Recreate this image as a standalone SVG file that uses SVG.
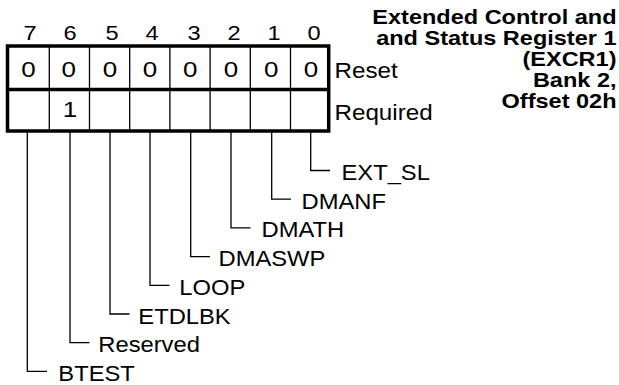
<svg xmlns="http://www.w3.org/2000/svg" width="619" height="385" viewBox="0 0 619 385">
<style>
text{font-family:"Liberation Sans",Arial,sans-serif;fill:#000}
.bit{font-size:20.5px;text-anchor:middle}
.val{font-size:22px;text-anchor:middle}
.lbl{font-size:22px}
.ttl{font-size:21px;font-weight:bold;text-anchor:end}
.thick{fill:none;stroke:#000;stroke-width:3.5}
.thin{fill:none;stroke:#000;stroke-width:1.3}
</style>
<rect width="619" height="385" fill="#fff"/>
<g id="title" transform="translate(616.5,0) scale(1.12,1)">
<text class="ttl" x="0" y="24.5">Extended Control and</text>
<text class="ttl" x="0" y="45.5">and Status Register 1</text>
<text class="ttl" x="0" y="66.5">(EXCR1)</text>
<text class="ttl" x="0" y="87.5">Bank 2,</text>
<text class="ttl" x="0" y="108.5">Offset 02h</text>
</g>
<g id="bit-numbers">
<text class="bit" transform="translate(30 40.3) scale(1.15 1)">7</text>
<text class="bit" transform="translate(70 40.3) scale(1.15 1)">6</text>
<text class="bit" transform="translate(112 40.3) scale(1.15 1)">5</text>
<text class="bit" transform="translate(152 40.3) scale(1.15 1)">4</text>
<text class="bit" transform="translate(194 40.3) scale(1.15 1)">3</text>
<text class="bit" transform="translate(234 40.3) scale(1.15 1)">2</text>
<text class="bit" transform="translate(274 40.3) scale(1.15 1)">1</text>
<text class="bit" transform="translate(314 40.3) scale(1.15 1)">0</text>
</g>
<g id="register">
<rect class="thick" x="7.5" y="46" width="321.2" height="85"/>
<line class="thick" x1="7.5" y1="89.5" x2="328.7" y2="89.5"/>
<path class="thin" d="M49.3 46V131M89.5 46V131M129.7 46V131M169.9 46V131M210.1 46V131M250.3 46V131M290.5 46V131"/>
<g id="reset-values">
<text class="val" transform="translate(28.4 77) scale(1.18 1)">0</text>
<text class="val" transform="translate(68.8 77) scale(1.18 1)">0</text>
<text class="val" transform="translate(110 77) scale(1.18 1)">0</text>
<text class="val" transform="translate(150 77) scale(1.18 1)">0</text>
<text class="val" transform="translate(190.3 77) scale(1.18 1)">0</text>
<text class="val" transform="translate(231 77) scale(1.18 1)">0</text>
<text class="val" transform="translate(271.3 77) scale(1.18 1)">0</text>
<text class="val" transform="translate(311 77) scale(1.18 1)">0</text>
</g>
<text class="val" transform="translate(70 117) scale(1.18 1)">1</text>
<text class="lbl" transform="translate(334.5 77.5) scale(1.1 1)">Reset</text>
<text class="lbl" transform="translate(334.5 120) scale(1.1 1)">Required</text>
</g>
<g id="connectors">
<path class="thin" d="M310.7 131V170.5H330"/>
<path class="thin" d="M271.7 131V199.2H291"/>
<path class="thin" d="M231 131V227.9H250.5"/>
<path class="thin" d="M190.7 131V256.6H210"/>
<path class="thin" d="M150 131V285.3H169.5"/>
<path class="thin" d="M110 131V314H129.5"/>
<path class="thin" d="M70 131V342.7H89.5"/>
<path class="thin" d="M27.3 131V371.4H47"/>
</g>
<g id="field-names">
<text class="lbl" transform="translate(341.5 180) scale(1.08 1)">EXT_SL</text>
<text class="lbl" transform="translate(301.5 208.7) scale(1.08 1)">DMANF</text>
<text class="lbl" transform="translate(261.5 237.4) scale(1.08 1)">DMATH</text>
<text class="lbl" transform="translate(218.5 266.1) scale(1.08 1)">DMASWP</text>
<text class="lbl" transform="translate(179.3 294.8) scale(1.08 1)">LOOP</text>
<text class="lbl" transform="translate(138.3 323.5) scale(1.08 1)">ETDLBK</text>
<text class="lbl" transform="translate(98.3 352.2) scale(1.08 1)">Reserved</text>
<text class="lbl" transform="translate(58.3 380.9) scale(1.08 1)">BTEST</text>
</g>
</svg>
